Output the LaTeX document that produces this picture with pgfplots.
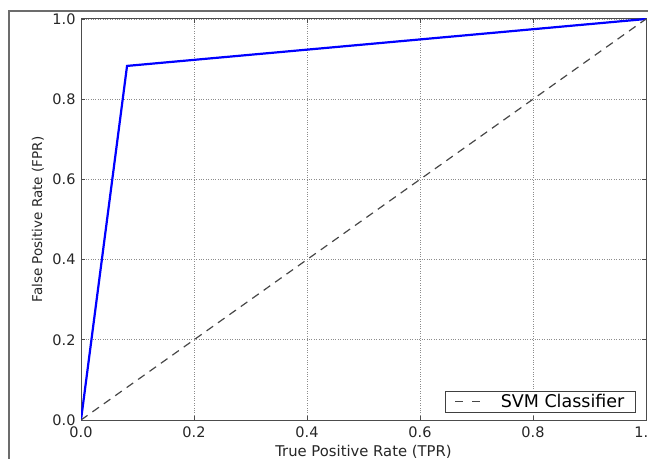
\documentclass[border=0pt]{standalone}
\usepackage{pgfplots}
\pgfplotsset{compat=1.18}
\usepackage{fontspec}
\setmainfont{DejaVu Sans}
\begin{document}
\begin{tikzpicture}[x=1pt,y=1pt]
\useasboundingbox (0,0) rectangle (648,458);
\draw[line width=1.2pt, gray!85!black] (9,-20) -- (9,447) -- (700,447);
\begin{axis}[
  at={(81pt,38pt)}, anchor=south west,
  scale only axis, width=565pt, height=401pt,
  xmin=0, xmax=1, ymin=0, ymax=1,
  xtick={0,0.2,...,1.0}, ytick={0,0.2,...,1.0},
  tick align=inside,
  major tick length=4pt,
  tick style={black!70, line width=0.6pt},
  grid=major,
  grid style={dotted, black!45, line width=0.7pt},
  axis line style={black!70, line width=1pt},
  ticklabel style={font=\fontsize{14.5}{16}\selectfont, text=black!85},
  /pgf/number format/assume math mode=true,
  xticklabel style={/pgf/number format/.cd, fixed, fixed zerofill, precision=1, /tikz/.cd, anchor=center, yshift=-12pt},
  yticklabel style={/pgf/number format/.cd, fixed, fixed zerofill, precision=1, /tikz/.cd, anchor=center, xshift=-17pt},
  xlabel={\fontsize{14.8}{16}\selectfont True Positive Rate (TPR)},
  ylabel={\fontsize{13.5}{15}\selectfont False Positive Rate (FPR)},
  xlabel style={at={(axis description cs:0.5,-0.08)}, anchor=center, text=black!85},
  ylabel style={at={(axis description cs:-0.0761,0.5)}, anchor=center, text=black!85},
  legend style={at={(0.982,0.017)}, anchor=south east, draw=black!75, line width=0.8pt,
    font=\fontsize{17.5}{19}\selectfont, inner xsep=9pt, inner ysep=1.5pt, cells={anchor=west},
    /tikz/column sep=18pt},
  legend cell align=left,
  legend image code/.code={%
    \draw[#1, dash pattern=on 8pt off 9pt] (0pt,0pt) -- (25pt,0pt);},
]
\addplot[blue, line width=2.2pt, forget plot] coordinates {(0,0) (0.0815,0.883) (1,1)};
\addplot[black!72, line width=1.2pt, dash pattern=on 8pt off 6pt] coordinates {(0,0) (1,1)};
\addlegendentry{SVM Classifier}
\end{axis}
\end{tikzpicture}
\end{document}
